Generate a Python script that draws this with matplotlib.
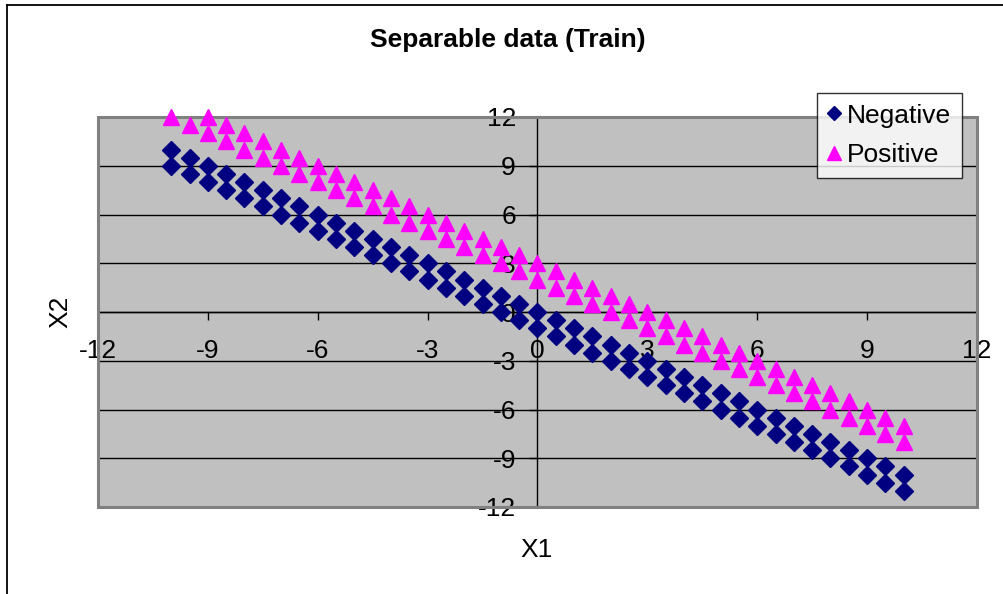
import matplotlib
matplotlib.use("Agg")
import matplotlib.pyplot as plt
from matplotlib.lines import Line2D
from matplotlib.patches import Rectangle

# ---- data ----
x_vals = [-10, -9.5, -9, -8.5, -8, -7.5, -7, -6.5, -6, -5.5, -5, -4.5, -4, -3.5, -3,
          -2.5, -2, -1.5, -1, -0.5, 0, 0.5, 1, 1.5, 2, 2.5, 3, 3.5, 4, 4.5, 5,
          5.5, 6, 6.5, 7, 7.5, 8, 8.5, 9, 9.5, 10]

neg_y_upper = [10, 9.5, 9, 8.5, 8, 7.5, 7, 6.5, 6, 5.5, 5, 4.5, 4, 3.5, 3,
               2.5, 2, 1.5, 1, 0.5, 0, -0.5, -1, -1.5, -2, -2.5, -3, -3.5, -4, -4.5, -5,
               -5.5, -6, -6.5, -7, -7.5, -8, -8.5, -9, -9.5, -10]
neg_y_lower = [9, 8.5, 8, 7.5, 7, 6.5, 6, 5.5, 5, 4.5, 4, 3.5, 3, 2.5, 2,
               1.5, 1, 0.5, 0, -0.5, -1, -1.5, -2, -2.5, -3, -3.5, -4, -4.5, -5, -5.5, -6,
               -6.5, -7, -7.5, -8, -8.5, -9, -9.5, -10, -10.5, -11]
pos_y_upper = [13, 12.5, 12, 11.5, 11, 10.5, 10, 9.5, 9, 8.5, 8, 7.5, 7, 6.5, 6,
               5.5, 5, 4.5, 4, 3.5, 3, 2.5, 2, 1.5, 1, 0.5, 0, -0.5, -1, -1.5, -2,
               -2.5, -3, -3.5, -4, -4.5, -5, -5.5, -6, -6.5, -7]
pos_y_lower = [12, 11.5, 11, 10.5, 10, 9.5, 9, 8.5, 8, 7.5, 7, 6.5, 6, 5.5, 5,
               4.5, 4, 3.5, 3, 2.5, 2, 1.5, 1, 0.5, 0, -0.5, -1, -1.5, -2, -2.5, -3,
               -3.5, -4, -4.5, -5, -5.5, -6, -6.5, -7, -7.5, -8]

ticks = [-12, -9, -6, -3, 0, 3, 6, 9, 12]
title = "Separable data (Train)"
xlabel = "X1"
ylabel = "X2"
labels = ["Negative", "Positive"]

# ---- style ----
plt.rcParams['font.family'] = ['Liberation Sans', 'DejaVu Sans']
plt.rcParams['axes.unicode_minus'] = False
FS = 19
lo, hi = -12, 12

fig = plt.figure(figsize=(10.04, 5.94), dpi=100)
ax = fig.add_axes([98 / 1004, 1 - 507 / 594, 879 / 1004, 390 / 594])
ax.set_facecolor('#C0C0C0')
ax.set_xlim(lo, hi)
ax.set_ylim(lo, hi)


def visible(xs, ys):
    pts = [(a, b) for a, b in zip(xs, ys) if lo <= a <= hi and lo <= b <= hi]
    return [p[0] for p in pts], [p[1] for p in pts]


nx, ny = visible(x_vals + x_vals, neg_y_upper + neg_y_lower)
px, py = visible(x_vals + x_vals, pos_y_upper + pos_y_lower)

ax.plot(nx, ny, linestyle='none', marker='D', ms=8.8, color='#000080',
        mec='#000080', clip_on=False, zorder=4, label=labels[0])
ax.plot(px, py, linestyle='none', marker='^', ms=11.5, color='#FF00FF',
        mec='#FF00FF', clip_on=False, zorder=4, label=labels[1])

# grid
ax.set_yticks(ticks)
ax.set_xticks(ticks)
ax.yaxis.grid(True, color='black', linewidth=1.0, zorder=1)
ax.xaxis.grid(False)
ax.set_axisbelow(True)

# spines crossing at zero
for s in ['top', 'right']:
    ax.spines[s].set_visible(False)
ax.spines['left'].set_position(('data', 0))
ax.spines['bottom'].set_position(('data', 0))
for s in ['left', 'bottom']:
    ax.spines[s].set_color('black')
    ax.spines[s].set_linewidth(1.0)
    ax.spines[s].set_zorder(2)

ax.tick_params(axis='both', direction='out', length=5.5, width=1.0,
               color='black', labelsize=FS)
ax.tick_params(axis='x', pad=14)
ax.tick_params(axis='y', pad=10)

# plot area border
ax.add_patch(Rectangle((0, 0), 1, 1, transform=ax.transAxes, fill=False,
                       edgecolor='#808080', linewidth=2.2, zorder=3, clip_on=False))

# texts
fig.text(508 / 1004, 1 - 40 / 594, title, ha='center', va='center',
         fontsize=FS, fontweight='bold')
fig.text(537 / 1004, 1 - 550 / 594, xlabel, ha='center', va='center', fontsize=FS)
fig.text(60 / 1004, 1 - 312 / 594, ylabel, ha='center', va='center',
         fontsize=FS, rotation=90)

leg = fig.legend(loc='upper left', bbox_to_anchor=(817 / 1004, 1 - 93 / 594),
                 frameon=True, fancybox=False, shadow=False, fontsize=FS,
                 handlelength=0.5, handletextpad=0.25, borderpad=0.4,
                 labelspacing=0.6, borderaxespad=0.0, markerscale=0.85)
leg.get_frame().set_edgecolor('black')
leg.get_frame().set_linewidth(1.0)
leg.get_frame().set_facecolor('white')

# figure border (black, left and top)
fig.add_artist(Line2D([6.5 / 1004, 6.5 / 1004], [0, 1 - 4.5 / 594],
                      transform=fig.transFigure, color='black', linewidth=1.3))
fig.add_artist(Line2D([6.5 / 1004, 1], [1 - 4.5 / 594, 1 - 4.5 / 594],
                      transform=fig.transFigure, color='black', linewidth=1.3))

fig.savefig('out.png', dpi=100)
